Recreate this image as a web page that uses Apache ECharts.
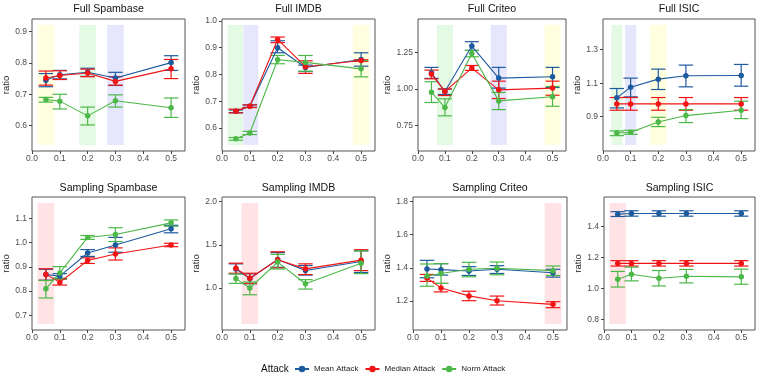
<!DOCTYPE html>
<html>
<head>
<meta charset="utf-8">
<script src="https://cdn.jsdelivr.net/npm/echarts@6/dist/echarts.min.js"></script>
<style>
  html, body { margin: 0; padding: 0; background: #fff; }
  #main { width: 763px; height: 382px; }
</style>
</head>
<body>
<div id="main"></div>
<script>
// attack strengths on the x axis
const xValues = [0.05, 0.1, 0.2, 0.3, 0.5];
const xTicks = [0, 0.1, 0.2, 0.3, 0.4, 0.5];

const panelTitles = ['Full Spambase', 'Full IMDB', 'Full Criteo', 'Full ISIC',
  'Sampling Spambase', 'Sampling IMDB', 'Sampling Criteo', 'Sampling ISIC'];
const attackNames = ['Mean Attack', 'Median Attack', 'Norm Attack'];

// one row per panel, one value per x
const meanVal = [
  [0.745, 0.762, 0.770, 0.752, 0.801],
  [0.662, 0.681, 0.900, 0.826, 0.856],
  [1.112, 0.983, 1.296, 1.075, 1.084],
  [1.012, 1.076, 1.124, 1.144, 1.146],
  [0.868, 0.862, 0.957, 0.990, 1.057],
  [1.220, 1.110, 1.330, 1.202, 1.307],
  [1.393, 1.389, 1.381, 1.391, 1.370],
  [1.481, 1.485, 1.485, 1.485, 1.485]
];
const meanLo = [
  [0.724, 0.749, 0.757, 0.728, 0.776],
  [0.657, 0.677, 0.881, 0.811, 0.831],
  [1.073, 0.962, 1.266, 1.006, 1.010],
  [0.952, 1.018, 1.062, 1.078, 1.082],
  [0.845, 0.853, 0.943, 0.960, 1.040],
  [1.165, 1.050, 1.240, 1.150, 1.180],
  [1.340, 1.356, 1.354, 1.366, 1.344],
  [1.466, 1.468, 1.468, 1.468, 1.468]
];
const meanHi = [
  [0.766, 0.776, 0.783, 0.770, 0.823],
  [0.667, 0.686, 0.926, 0.835, 0.881],
  [1.149, 1.000, 1.326, 1.149, 1.149],
  [1.068, 1.130, 1.184, 1.208, 1.212],
  [0.890, 0.872, 0.971, 1.021, 1.071],
  [1.280, 1.165, 1.410, 1.260, 1.430],
  [1.445, 1.425, 1.407, 1.413, 1.391],
  [1.497, 1.503, 1.503, 1.503, 1.503]
];

const medianVal = [
  [0.752, 0.760, 0.768, 0.741, 0.781],
  [0.662, 0.681, 0.931, 0.829, 0.852],
  [1.103, 0.983, 1.144, 0.994, 1.006],
  [0.976, 0.976, 0.976, 0.976, 0.976],
  [0.869, 0.836, 0.926, 0.953, 0.990],
  [1.230, 1.113, 1.327, 1.222, 1.323],
  [1.338, 1.279, 1.231, 1.202, 1.180],
  [1.162, 1.162, 1.162, 1.162, 1.162]
];
const medianLo = [
  [0.729, 0.747, 0.756, 0.729, 0.750],
  [0.656, 0.676, 0.919, 0.804, 0.849],
  [1.070, 0.955, 1.128, 0.934, 0.957],
  [0.938, 0.938, 0.938, 0.938, 0.938],
  [0.844, 0.825, 0.914, 0.928, 0.983],
  [1.171, 1.054, 1.233, 1.156, 1.202],
  [1.318, 1.255, 1.202, 1.176, 1.160],
  [1.145, 1.145, 1.145, 1.145, 1.145]
];
const medianHi = [
  [0.774, 0.775, 0.780, 0.756, 0.811],
  [0.670, 0.686, 0.940, 0.851, 0.855],
  [1.130, 1.000, 1.162, 1.054, 1.054],
  [1.014, 1.014, 1.014, 1.014, 1.014],
  [0.892, 0.849, 0.937, 0.978, 0.997],
  [1.288, 1.171, 1.420, 1.280, 1.444],
  [1.360, 1.306, 1.259, 1.230, 1.196],
  [1.180, 1.180, 1.180, 1.180, 1.180]
];

const normVal = [
  [0.683, 0.678, 0.631, 0.679, 0.657],
  [0.559, 0.581, 0.855, 0.845, 0.821],
  [0.978, 0.872, 1.245, 0.918, 0.946],
  [0.802, 0.806, 0.868, 0.906, 0.938],
  [0.810, 0.875, 1.021, 1.033, 1.081],
  [1.109, 1.000, 1.300, 1.050, 1.288],
  [1.350, 1.366, 1.391, 1.397, 1.383],
  [1.060, 1.092, 1.066, 1.079, 1.075]
];
const normLo = [
  [0.675, 0.653, 0.602, 0.659, 0.626],
  [0.554, 0.575, 0.840, 0.812, 0.791],
  [0.907, 0.815, 1.222, 0.858, 0.881],
  [0.786, 0.794, 0.840, 0.864, 0.888],
  [0.772, 0.850, 1.013, 1.004, 1.067],
  [1.054, 0.922, 1.220, 0.988, 1.167],
  [1.289, 1.306, 1.346, 1.358, 1.354],
  [1.009, 1.049, 1.016, 1.036, 1.027]
];
const normHi = [
  [0.690, 0.700, 0.659, 0.698, 0.688],
  [0.564, 0.587, 0.871, 0.871, 0.852],
  [1.050, 0.932, 1.266, 0.976, 1.017],
  [0.814, 0.818, 0.896, 0.942, 0.992],
  [0.844, 0.901, 1.029, 1.061, 1.093],
  [1.163, 1.070, 1.390, 1.097, 1.430],
  [1.423, 1.425, 1.433, 1.435, 1.411],
  [1.110, 1.138, 1.116, 1.123, 1.125]
];

// highlighted x ranges per panel: [from, to, kind]
const shadeSpans = [
  [[0.02, 0.08, 'yellow'], [0.17, 0.23, 'green'], [0.27, 0.33, 'blue']],
  [[0.02, 0.075, 'green'], [0.077, 0.13, 'blue'], [0.47, 0.53, 'yellow']],
  [[0.07, 0.13, 'green'], [0.27, 0.33, 'blue'], [0.47, 0.53, 'yellow']],
  [[0.03, 0.07, 'green'], [0.08, 0.12, 'blue'], [0.17, 0.23, 'yellow']],
  [[0.02, 0.08, 'red']],
  [[0.07, 0.13, 'red']],
  [[0.47, 0.53, 'red']],
  [[0.02, 0.08, 'red']]
];
const shadeLow = [0.538, 0.536, 0.614, 0.730, 0.665, 0.584, 1.062, 0.770];
const shadeHigh = [0.921, 0.985, 1.441, 1.448, 1.1625, 1.984, 1.790, 1.553];

const yTicks = [
  [0.6, 0.7, 0.8, 0.9],
  [0.6, 0.7, 0.8, 0.9, 1.0],
  [0.75, 1.0, 1.25],
  [0.9, 1.1, 1.3],
  [0.7, 0.8, 0.9, 1.0, 1.1],
  [1.0, 1.5, 2.0],
  [1.2, 1.4, 1.6, 1.8],
  [0.8, 1.0, 1.2, 1.4]
];
const yDecimals = [1, 1, 2, 1, 1, 1, 1, 1];

// layout
const boxes = [
  [32, 19, 153, 132], [222, 19, 153, 132], [418, 19, 148, 132], [603, 19, 152, 132],
  [32, 197, 153, 133], [222, 197, 153, 133], [413, 197, 154, 133], [604, 197, 151, 133]
];
const nameGaps = [18, 18, 24, 19, 18, 18, 18, 20];
const colors = ['#1d5a9e', '#f01414', '#4cb848'];
const shadeColors = { yellow: '#ffffe0', green: '#e5fae5', blue: '#e6e6fc', red: '#ffe3e5' };
const FONT = 'Liberation Sans, Arial, sans-serif';
const capHalf = 0.026;

const attackVal = [meanVal, medianVal, normVal];
const attackLo = [meanLo, medianLo, normLo];
const attackHi = [meanHi, medianHi, normHi];

const grids = [], xAxes = [], yAxes = [], lineSeries = [], errSeries = [], shadeSeries = [], texts = [];

boxes.forEach((b, i) => {
  grids.push({ left: b[0], top: b[1], width: b[2], height: b[3], show: true,
    borderColor: '#555', borderWidth: 1, backgroundColor: 'transparent' });

  xAxes.push({
    gridIndex: i, type: 'value', min: 0, max: 0.55,
    splitLine: { show: false }, axisLine: { show: false },
    axisTick: { show: true, length: 3, customValues: xTicks, lineStyle: { color: '#444' } },
    axisLabel: { customValues: xTicks, margin: 3, fontSize: 8.5, color: '#4d4d4d', fontFamily: FONT,
      formatter: v => v.toFixed(1) }
  });

  const pad = (shadeHigh[i] - shadeLow[i]) * 0.05;
  yAxes.push({
    gridIndex: i, type: 'value', min: shadeLow[i] - pad, max: shadeHigh[i] + pad,
    splitLine: { show: false }, axisLine: { show: false },
    axisTick: { show: true, length: 3, customValues: yTicks[i], lineStyle: { color: '#444' } },
    axisLabel: { customValues: yTicks[i], margin: 5, fontSize: 8.5, color: '#4d4d4d', fontFamily: FONT,
      formatter: v => v.toFixed(yDecimals[i]) },
    name: 'ratio', nameLocation: 'middle', nameGap: nameGaps[i],
    nameTextStyle: { fontSize: 9.5, color: '#1a1a1a', fontFamily: FONT }
  });

  // shaded bands
  shadeSeries.push({
    type: 'custom', xAxisIndex: i, yAxisIndex: i, silent: true, z: 1,
    data: shadeSpans[i].map(s => [s[0], s[1], shadeLow[i], shadeHigh[i], s[2]]),
    encode: { x: [0, 1], y: [2, 3] },
    renderItem: function (params, api) {
      const kind = shadeSpans[i][params.dataIndex][2];
      const p0 = api.coord([api.value(0), api.value(3)]);
      const p1 = api.coord([api.value(1), api.value(2)]);
      return { type: 'rect', shape: { x: p0[0], y: p0[1], width: p1[0] - p0[0], height: p1[1] - p0[1] },
        style: { fill: shadeColors[kind] } };
    }
  });

  attackNames.forEach((name, a) => {
    lineSeries.push({
      name: name, type: 'line', xAxisIndex: i, yAxisIndex: i, z: 4,
      data: xValues.map((x, k) => [x, attackVal[a][i][k]]),
      symbol: 'circle', symbolSize: 5.5, showSymbol: true,
      lineStyle: { width: 1.1, color: colors[a] }, itemStyle: { color: colors[a] },
      emphasis: { disabled: true }, animation: false
    });
    errSeries.push({
      name: name, type: 'custom', xAxisIndex: i, yAxisIndex: i, z: 3, silent: true,
      itemStyle: { color: colors[a] },
      data: xValues.map((x, k) => [x, attackLo[a][i][k], attackHi[a][i][k]]),
      encode: { x: 0, y: [1, 2] },
      renderItem: function (params, api) {
        const x = api.value(0);
        const top = api.coord([x, api.value(2)]);
        const bot = api.coord([x, api.value(1)]);
        const l = api.coord([x - capHalf, 0])[0];
        const r = api.coord([x + capHalf, 0])[0];
        const st = { stroke: colors[a], lineWidth: 1.2, fill: null };
        return { type: 'group', children: [
          { type: 'line', shape: { x1: top[0], y1: top[1], x2: bot[0], y2: bot[1] }, style: st },
          { type: 'line', shape: { x1: l, y1: top[1], x2: r, y2: top[1] }, style: st },
          { type: 'line', shape: { x1: l, y1: bot[1], x2: r, y2: bot[1] }, style: st }
        ] };
      }
    });
  });

  texts.push({
    type: 'text', x: b[0] + b[2] / 2, y: i < 4 ? 9 : 188,
    style: { text: panelTitles[i], font: '10.6px ' + FONT, fill: '#111',
      align: 'center', verticalAlign: 'middle', textAlign: 'center', textVerticalAlign: 'middle' }
  });
});

texts.push({
  type: 'text', x: 261, y: 369,
  style: { text: 'Attack', font: '10px ' + FONT, fill: '#111',
    align: 'left', verticalAlign: 'middle', textAlign: 'left', textVerticalAlign: 'middle' }
});

const chart = echarts.init(document.getElementById('main'), null, { renderer: 'canvas' });
chart.setOption({
  animation: false,
  backgroundColor: '#fff',
  grid: grids,
  xAxis: xAxes,
  yAxis: yAxes,
  legend: {
    data: attackNames, left: 294, top: 365, padding: 0, itemWidth: 14, itemHeight: 8, itemGap: 6,
    textStyle: { fontSize: 8, color: '#222', fontFamily: FONT }, selectedMode: false
  },
  graphic: texts,
  series: lineSeries.concat(errSeries, shadeSeries)
});
</script>
</body>
</html>
